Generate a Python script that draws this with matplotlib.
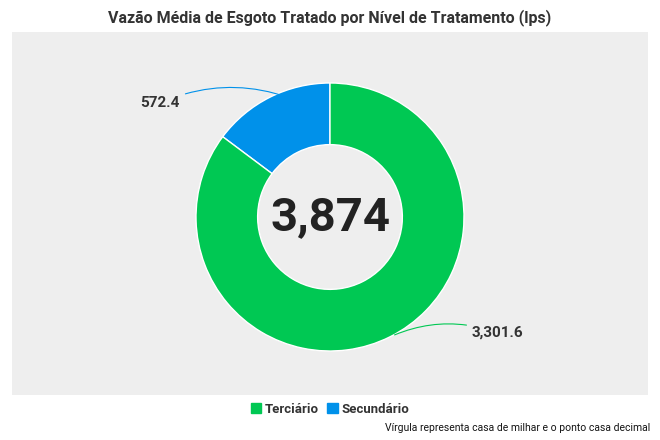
import matplotlib
matplotlib.use("Agg")
import matplotlib.pyplot as plt
from matplotlib.patches import Patch

categories = ["Secundário", "Terciário"]
values = [572.4, 3301.6]
colors = ["#0091EA", "#00C853"]
total_label = "3,874"
value_labels = ["572.4", "3,301.6"]

plt.rcParams["font.family"] = "Roboto"
fig = plt.figure(figsize=(6.6, 4.4), dpi=100)
ax = fig.add_axes([12/660, 45/440, 636/660, 363/440])
ax.set_facecolor("#EEEEEE")
ax.set_xlim(12, 648)
ax.set_ylim(45, 408)
ax.set_aspect("equal")
ax.set_xticks([]); ax.set_yticks([])
for s in ax.spines.values():
    s.set_visible(False)

cx, cy, r = 330, 223, 134
ax.pie(values, colors=colors, startangle=90, counterclock=True, center=(cx, cy),
       radius=r, wedgeprops=dict(width=r*0.46, edgecolor="white", linewidth=1), frame=True)
ax.set_xlim(12, 648); ax.set_ylim(45, 408)
ax.set_xticks([]); ax.set_yticks([])

ax.text(cx, cy, total_label, ha="center", va="center", fontsize=34, fontweight="bold", color="#222222")

ax.annotate(value_labels[0], xy=(290, 342), xytext=(180, 337), ha="right", va="center",
            fontsize=11, fontweight="bold", color="#333333",
            arrowprops=dict(arrowstyle="-", color=colors[0], lw=0.8,
                            connectionstyle="arc3,rad=-0.2"))
ax.annotate(value_labels[1], xy=(392, 104), xytext=(472, 107), ha="left", va="center",
            fontsize=11, fontweight="bold", color="#333333",
            arrowprops=dict(arrowstyle="-", color=colors[1], lw=0.8,
                            connectionstyle="arc3,rad=0.2"))

fig.text(0.5, 1 - 18/440, "Vazão Média de Esgoto Tratado por Nível de Tratamento (lps)",
         ha="center", va="center", fontsize=11.5, fontweight="bold", color="#333333")
handles = [Patch(color=colors[1], label=categories[1]), Patch(color=colors[0], label=categories[0])]
leg = fig.legend(handles=handles, loc="center", bbox_to_anchor=(0.5, 1 - 409/440), ncol=2,
                 frameon=False, fontsize=9.5, handlelength=0.8, handleheight=0.8,
                 handletextpad=0.3, columnspacing=0.6)
for t in leg.get_texts():
    t.set_fontweight("bold"); t.set_color("#333333")
fig.text(650/660, 1 - 428/440, "Vírgula representa casa de milhar e o ponto casa decimal",
         ha="right", va="center", fontsize=7.5, color="#111111")
fig.savefig("out.png", dpi=100)
